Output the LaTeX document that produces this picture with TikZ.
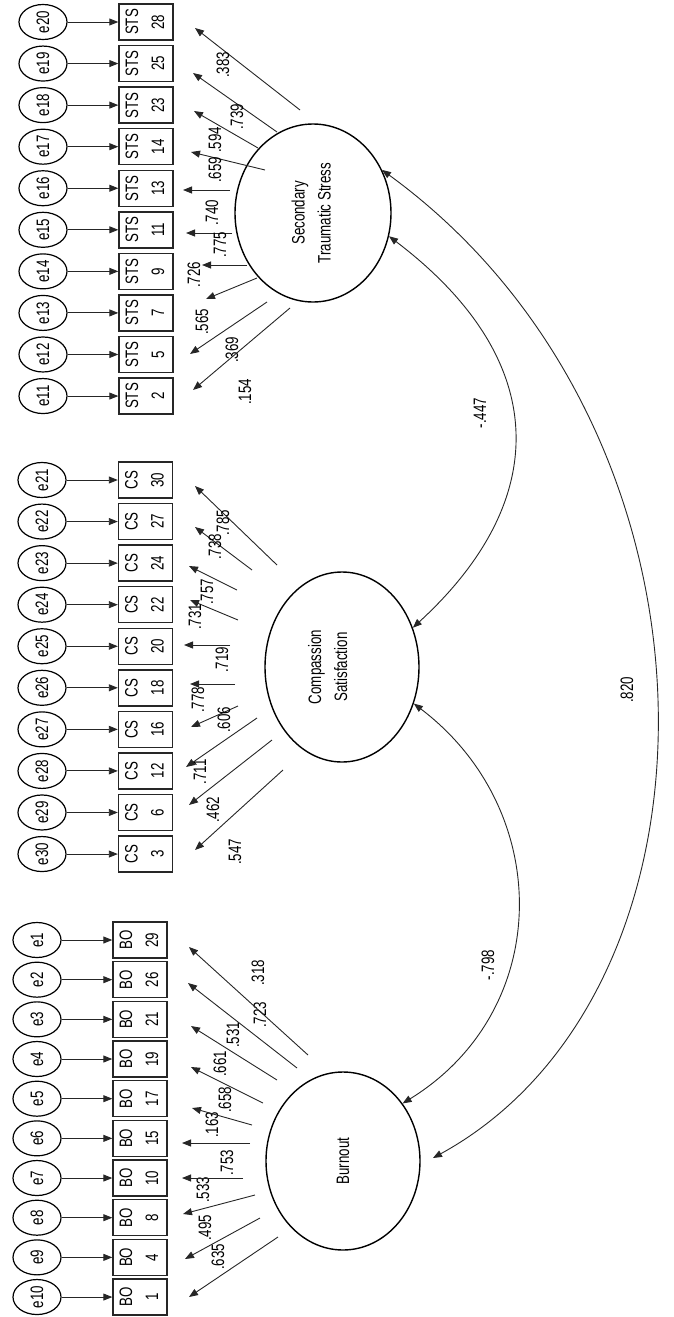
\documentclass[tikz,border=0pt]{standalone}
\usepackage{fontspec}
\setmainfont{Liberation Sans}[FakeStretch=0.74]
\usetikzlibrary{arrows.meta,shapes.geometric}
\begin{document}
\begin{tikzpicture}[x=1pt,y=-1pt,
  txt/.style={font=\fontsize{18}{26}\selectfont},
  obsbox/.style={draw=black!85, line width=1.4pt, minimum width=54pt, minimum height=36pt, inner sep=0pt, txt},
  errc/.style={ellipse, draw, line width=1.2pt, minimum width=48pt, minimum height=35pt, inner sep=0pt, txt},
  latent/.style={ellipse, draw, line width=1.4pt, inner sep=0pt},
  lab/.style={rotate=90, inner sep=0pt, txt},
  ld/.style={-{Triangle[length=9pt,width=7pt]}, line width=0.9pt, draw=black!85},
  cov/.style={{Triangle[length=9pt,width=7pt]}-{Triangle[length=9pt,width=7pt]}, line width=0.9pt, draw=black!85},
]
\useasboundingbox (0,0) rectangle (673,1317);

% observed variables and error terms
\foreach \n/\e [count=\k from 0] in {29/1,26/2,21/3,19/4,17/5,15/6,10/7,8/8,4/9,1/10}{
  \pgfmathsetmacro\yy{940+39.67*\k}
  \node[obsbox] (bo\n) at (140,\yy) {\rotatebox{90}{\begin{tabular}{@{}c@{}}BO\\\n\end{tabular}}};
  \node[errc] (e\e) at (37,\yy) {\rotatebox{90}{e\e}};
  \draw[ld] (e\e) -- (bo\n);
}
\foreach \n/\e [count=\k from 0] in {30/21,27/22,24/23,22/24,20/25,18/26,16/27,12/28,6/29,3/30}{
  \pgfmathsetmacro\yy{480+41.56*\k}
  \node[obsbox] (cs\n) at (145.5,\yy) {\rotatebox{90}{\begin{tabular}{@{}c@{}}CS\\\n\end{tabular}}};
  \node[errc] (e\e) at (42,\yy) {\rotatebox{90}{e\e}};
  \draw[ld] (e\e) -- (cs\n);
}
\foreach \n/\e [count=\k from 0] in {28/20,25/19,23/18,14/17,13/16,11/15,9/14,7/13,5/12,2/11}{
  \pgfmathsetmacro\yy{22+41.56*\k}
  \node[obsbox] (sts\n) at (146,\yy) {\rotatebox{90}{\begin{tabular}{@{}c@{}}STS\\\n\end{tabular}}};
  \node[errc] (e\e) at (43,\yy) {\rotatebox{90}{e\e}};
  \draw[ld] (e\e) -- (sts\n);
}

% latent variables
\node[latent, minimum width=154pt, minimum height=178pt] (burn) at (343,1161) {};
\node[lab] (burnt) at (343,1161) {Burnout};
\node[latent, minimum width=154pt, minimum height=190pt] (comp) at (342,667) {};
\node[lab] (compt) at (329,667) {\begin{tabular}{@{}c@{}}Compassion\\Satisfaction\end{tabular}};
\node[latent, minimum width=156pt, minimum height=178pt] (sec) at (313,213) {};
\node[lab] (sect) at (312.5,213) {\begin{tabular}{@{}c@{}}Secondary\\Traumatic Stress\end{tabular}};

% loadings Burnout
\foreach \sx/\sy/\tx/\ty/\lx/\ly/\v [count=\i] in {
 278/1237/189/1297/218/1257/.635,
 260/1218/185/1259/205/1228/.495,
 255/1195/183/1214/203/1190/.533,
 243/1178/182/1178/227/1163/.753,
 250/1143/182/1143/212/1125/.163,
 252/1125/192/1108/225/1100/.658,
 263/1103/191/1067/220/1064/.661,
 277/1080/191/1026/233/1035/.531,
 297/1068/188/983/260/1015/.723,
 308/1055/189/947/258/973/.318}{
  \coordinate (bs\i) at (\sx,\sy);
  \coordinate (bt\i) at (\tx,\ty);
  \draw[ld] (bs\i) -- (bt\i);
  \node[lab] (bl\i) at (\lx,\ly) {\v};
}
% loadings Compassion Satisfaction
\foreach \sx/\sy/\tx/\ty/\lx/\ly/\v [count=\i] in {
 277/565/195/486/223/523/.785,
 252/570/195/527/215/547/.738,
 237/590/189/566/207/592/.757,
 238/620/190/600/195/617/.731,
 230/645/184/645/222/660/.719,
 235/684/190/684/198/700/.778,
 238/706/191/727/224/720/.606,
 257/718/186/767/200/772/.711,
 272/740/189/805/213/810/.462,
 283/770/195/850/235/852/.547}{
  \coordinate (cs\i) at (\sx,\sy);
  \coordinate (ct\i) at (\tx,\ty);
  \draw[ld] (cs\i) -- (ct\i);
  \node[lab] (cl\i) at (\lx,\ly) {\v};
}
% loadings Secondary Traumatic Stress
\foreach \sx/\sy/\tx/\ty/\lx/\ly/\v [count=\i] in {
 300/110/195/28/223/65/.383,
 277/132/193/73/237/117/.739,
 258/148/194/111/215/140/.594,
 265/170/191/152/215/170/.659,
 230/190/183/190/212/213/.740,
 232/233/186/233/220/245/.775,
 247/265/202/265/194/275/.726,
 257/278/206/299/202/322/.565,
 267/302/190/354/232/350/.369,
 290/308/193/390/245/392/.154}{
  \coordinate (ss\i) at (\sx,\sy);
  \coordinate (st\i) at (\tx,\ty);
  \draw[ld] (ss\i) -- (st\i);
  \node[lab] (sl\i) at (\lx,\ly) {\v};
}

% covariances
\draw[cov] (sec.-17) .. controls (552,360) and (552,500) .. (comp.29);
\node[lab] (c1) at (480,413) {-.447};
\draw[cov] (comp.-27) .. controls (554,810) and (554,1010) .. (burn.44);
\node[lab] (c2) at (488,965) {-.798};
\coordinate (burnr) at (433,1158);
\draw[cov] (sec.32) .. controls (739,430) and (739,990) .. (burnr);
\node[lab] (c3) at (627,690) {.820};
\end{tikzpicture}
\end{document}
